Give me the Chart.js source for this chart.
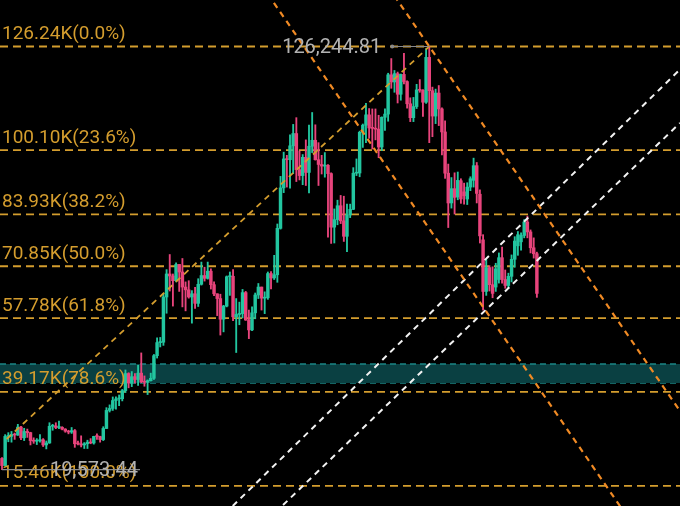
<!DOCTYPE html>
<html lang="en">
<head>
<meta charset="UTF-8">
<title>BTC Fibonacci</title>
<script src="https://cdn.jsdelivr.net/npm/chart.js@4.4.1/dist/chart.umd.min.js"></script>
<style>
    html, body { margin: 0; padding: 0; background: #000; }
    #wrap { width: 680px; height: 506px; }
</style>
</head>
<body>
<div id="wrap"><canvas id="chart" width="680" height="506"></canvas></div>
<script>
// weekly candles, price in thousands (K)
var opens = [
    22.4, 20.6, 27.95, 27.97, 28.45, 28.3, 30.3, 27.6, 29.2, 28.9,
    26.9, 26.75, 26.85, 27.1, 25.8, 26.3, 30.5, 30.6, 30.2, 30.25,
    29.8, 29.3, 29.05, 29.4, 26.1, 26.05, 25.8, 26.1, 26.5, 26.3,
    27.95, 27.9, 27.15, 29.95, 34.5, 35.0, 37.0, 37.4, 37.45, 39.5,
    43.8, 41.4, 43.0, 42.3, 43.9, 41.7, 41.6, 42.0, 42.6, 48.3,
    51.6, 51.7, 63.1, 68.9, 68.4, 67.2, 71.3, 69.4, 65.6, 64.9,
    63.1, 63.9, 61.5, 66.3, 68.5, 67.8, 69.6, 66.2, 63.9, 62.7,
    57.5, 60.8, 68.2, 68.3, 58.1, 58.7, 58.9, 64.2, 57.3, 54.8,
    59.1, 63.6, 65.6, 62.8, 62.9, 69.0, 67.9, 68.7, 80.4, 90.6,
    97.9, 97.7, 101.2, 104.3, 95.2, 93.7, 98.3, 94.5, 101.1, 102.6,
    97.7, 96.5, 96.1, 96.3, 94.2, 80.7, 82.6, 86.1, 82.3, 78.4,
    83.8, 85.2, 94.3, 94.35, 104.6, 106.4, 109.0, 105.7, 105.6, 105.4,
    100.9, 108.4, 109.2, 119.1, 117.3, 119.4, 114.2, 119.2, 117.4, 111.8,
    108.3, 111.1, 115.3, 115.2, 112.2, 123.5, 115.1, 108.7, 114.5, 110.5,
    104.7, 94.3, 86.8, 90.4, 88.3, 92.4, 89.6, 87.8, 90.8, 92.5,
    96.2, 89.0, 77.5, 64.5, 70.5, 66.2, 65.6, 67.5, 73.0, 67.5,
    66.0, 68.3, 72.6, 76.0, 77.0, 78.6, 82.0, 79.5, 75.5, 74.0
];
var highs = [
    22.6, 28.4, 28.9, 29.2, 28.8, 31.0, 30.5, 30.0, 29.8, 29.0,
    27.6, 27.4, 28.4, 27.4, 26.8, 31.4, 31.0, 31.4, 31.8, 30.4,
    29.9, 29.5, 30.2, 29.7, 26.8, 28.1, 26.4, 27.0, 27.4, 28.0,
    28.6, 28.0, 30.4, 35.2, 35.9, 37.9, 37.9, 38.4, 39.8, 44.7,
    44.0, 44.3, 43.8, 45.9, 49.0, 43.2, 42.2, 43.9, 48.6, 52.8,
    52.9, 64.0, 70.0, 73.8, 68.9, 71.7, 71.3, 72.8, 66.9, 67.2,
    64.7, 65.5, 67.7, 71.9, 70.6, 71.9, 70.2, 66.9, 63.9, 63.8,
    61.0, 68.4, 69.4, 70.0, 62.7, 61.8, 65.0, 64.5, 59.8, 60.6,
    64.1, 66.5, 65.6, 64.4, 69.4, 69.5, 73.6, 81.5, 93.5, 99.6,
    98.8, 104.0, 106.6, 108.3, 99.9, 99.0, 102.7, 106.4, 109.6, 106.5,
    102.0, 98.8, 99.5, 96.5, 94.4, 85.3, 87.5, 88.7, 88.5, 86.5,
    86.5, 95.7, 97.9, 104.9, 106.7, 111.9, 110.6, 110.5, 110.5, 108.9,
    108.5, 110.5, 119.5, 123.2, 120.2, 119.8, 119.3, 124.5, 117.6, 113.3,
    113.4, 116.7, 117.9, 115.4, 125.7, 126.24, 116.0, 115.5, 116.4, 110.8,
    107.5, 96.6, 93.2, 94.4, 94.6, 92.9, 91.8, 91.9, 93.4, 98.1,
    97.0, 90.1, 78.8, 72.6, 71.0, 70.7, 71.6, 74.2, 75.7, 69.9,
    69.1, 73.7, 78.3, 79.6, 79.3, 82.6, 83.5, 80.0, 78.0, 74.4
];
var lows = [
    19.57, 20.5, 26.6, 26.5, 27.2, 28.2, 27.1, 26.9, 27.7, 25.8,
    26.2, 25.9, 26.5, 25.4, 24.8, 26.2, 29.5, 29.9, 29.9, 29.6,
    29.0, 28.6, 28.7, 25.2, 25.8, 25.3, 24.9, 24.9, 26.1, 26.0,
    27.2, 26.5, 26.9, 29.9, 34.1, 34.5, 34.8, 35.7, 36.9, 39.0,
    40.2, 40.5, 41.4, 40.8, 41.5, 40.6, 38.5, 41.9, 42.3, 47.7,
    50.5, 50.9, 59.0, 64.6, 60.8, 66.9, 64.5, 60.6, 59.6, 62.8,
    56.5, 60.2, 60.7, 66.1, 67.1, 67.6, 65.1, 63.4, 58.4, 53.5,
    54.3, 60.6, 63.5, 57.1, 49.1, 56.1, 57.8, 57.2, 52.6, 54.6,
    57.6, 62.7, 59.8, 58.9, 62.5, 65.1, 67.5, 66.8, 80.2, 89.4,
    90.8, 90.5, 94.2, 92.2, 92.6, 91.4, 91.2, 89.3, 99.5, 97.6,
    91.2, 94.1, 93.3, 78.2, 76.6, 76.7, 81.3, 81.6, 77.1, 74.5,
    83.1, 85.1, 93.7, 93.4, 100.8, 102.0, 103.1, 100.4, 102.7, 98.2,
    100.0, 105.1, 107.4, 115.7, 114.7, 112.0, 112.7, 116.8, 110.7, 107.3,
    107.3, 110.6, 114.7, 108.6, 111.9, 102.0, 103.5, 106.8, 106.3, 98.9,
    93.0, 80.6, 85.5, 84.0, 87.6, 86.7, 86.5, 86.4, 89.9, 90.8,
    86.8, 76.7, 59.8, 63.5, 64.6, 62.9, 64.5, 66.6, 66.6, 65.3,
    65.2, 66.9, 70.6, 73.6, 74.9, 78.0, 78.0, 74.2, 72.9, 63.0
];
var closes = [
    20.6, 27.95, 27.97, 28.45, 28.3, 30.3, 27.6, 29.2, 28.9, 26.9,
    26.75, 26.85, 27.1, 25.8, 26.3, 30.5, 30.6, 30.2, 30.25, 29.8,
    29.3, 29.05, 29.4, 26.1, 26.05, 25.8, 26.1, 26.5, 26.3, 27.95,
    27.9, 27.15, 29.95, 34.5, 35.0, 37.0, 37.4, 37.45, 39.5, 43.8,
    41.4, 43.0, 42.3, 43.9, 41.7, 41.6, 42.0, 42.6, 48.3, 51.6,
    51.7, 63.1, 68.9, 68.4, 67.2, 71.3, 69.4, 65.6, 64.9, 63.1,
    63.9, 61.5, 66.3, 68.5, 67.8, 69.6, 66.2, 63.9, 62.7, 57.5,
    60.8, 68.2, 68.3, 58.1, 58.7, 58.9, 64.2, 57.3, 54.8, 59.1,
    63.6, 65.6, 62.8, 62.9, 69.0, 67.9, 68.7, 80.4, 90.6, 97.9,
    97.7, 101.2, 104.3, 95.2, 93.7, 98.3, 94.5, 101.1, 102.6, 97.7,
    96.5, 96.1, 96.3, 94.2, 80.7, 82.6, 86.1, 82.3, 78.4, 83.8,
    85.2, 94.3, 94.35, 104.6, 106.4, 109.0, 105.7, 105.6, 105.4, 100.9,
    108.4, 109.2, 119.1, 117.3, 119.4, 114.2, 119.2, 117.4, 111.8, 108.3,
    111.1, 115.3, 115.2, 112.2, 123.5, 115.1, 108.7, 114.5, 110.5, 104.7,
    94.3, 86.8, 90.4, 88.2, 92.5, 87.8, 88.6, 90.8, 92.9, 96.2,
    89.2, 78.5, 64.5, 70.5, 66.2, 64.0, 70.2, 73.0, 67.5, 66.0,
    68.3, 72.6, 77.2, 78.8, 78.6, 82.0, 79.5, 75.5, 74.0, 64.0
];

// fibonacci retracement levels (K) and their percentages
var fibLevels = [126.24, 100.10, 83.93, 70.85, 57.78, 39.17, 15.46];
var fibPercents = ['0.0%', '23.6%', '38.2%', '50.0%', '61.8%', '78.6%', '100.0%'];

// support zone (K)
var zoneBand = [41.4, 46.2];

// marked high / low
var peakIndex = 135, peakValue = 126.24481;
var lowIndex = 0, lowValue = 19.57344;

// trend lines as [index1, price1, index2, price2]
var goldLine = [1.5, 27.3, 135, 126.24];
var orangeLines = [[80, 144.1, 200, 4.9], [120, 143.64, 220, 27.64]];
var whiteLines = [[72.9, 10.41, 214.2, 120.44], [88.8, 10.66, 214.2, 106.95]];

var xMin = -0.632, xMax = 214.22;
var yMin = 10.41, yMax = 137.96;

var gold = '#d49d2e';
var green = '#22c6a0';
var red = '#e8447c';

var wicks = [], bodies = [], colors = [];
for (var i = 0; i < opens.length; i++) {
    wicks.push({ x: i, y: [lows[i], highs[i]] });
    bodies.push({ x: i, y: [Math.min(opens[i], closes[i]), Math.max(opens[i], closes[i])] });
    colors.push(closes[i] >= opens[i] ? green : red);
}

function segment(a, color, dash, width, order) {
    return {
        type: 'line',
        data: [{ x: a[0], y: a[1] }, { x: a[2], y: a[3] }],
        borderColor: color,
        borderDash: dash,
        borderWidth: width,
        pointRadius: 0,
        fill: false,
        order: order
    };
}

var datasets = [];

// zone band (top line fills down to bottom line)
datasets.push({
    type: 'line',
    data: [{ x: xMin, y: zoneBand[1] }, { x: xMax, y: zoneBand[1] }],
    borderColor: '#1b8585', borderDash: [6, 4], borderWidth: 1.5,
    backgroundColor: 'rgb(10, 64, 66)', fill: '+1', pointRadius: 0, order: 20
});
datasets.push({
    type: 'line',
    data: [{ x: xMin, y: zoneBand[0] }, { x: xMax, y: zoneBand[0] }],
    borderColor: '#1b8585', borderDash: [6, 4], borderWidth: 1.5,
    fill: false, pointRadius: 0, order: 20
});

fibLevels.forEach(function (v) {
    datasets.push(segment([xMin, v, xMax, v], gold, [8, 5], 1.8, 15));
});

datasets.push({
    type: 'bar', data: wicks, backgroundColor: colors,
    barThickness: 1.2, grouped: false, order: 6
});
datasets.push({
    type: 'bar', data: bodies, backgroundColor: colors,
    barThickness: 2.8, grouped: false, minBarLength: 1, order: 5
});

datasets.push(segment(goldLine, gold, [6, 5], 1.8, 2));
orangeLines.forEach(function (l) {
    datasets.push(segment(l, '#f08a24', [6, 5], 2.2, 2));
});
whiteLines.forEach(function (l) {
    datasets.push(segment(l, '#f2f2f2', [6, 5], 2, 2));
});

var labelPlugin = {
    id: 'fibLabels',
    afterDatasetsDraw: function (chart) {
        var ctx = chart.ctx, xs = chart.scales.x, ys = chart.scales.y;
        ctx.save();
        ctx.font = '19px Roboto';
        ctx.fillStyle = gold;
        ctx.textAlign = 'left';
        ctx.textBaseline = 'alphabetic';
        fibLevels.forEach(function (v, i) {
            ctx.fillText(v.toFixed(2) + 'K(' + fibPercents[i] + ')', 2, ys.getPixelForValue(v) - 7.5);
        });

        // high marker
        var px = xs.getPixelForValue(peakIndex), py = ys.getPixelForValue(peakValue);
        ctx.strokeStyle = '#8a8a8a';
        ctx.fillStyle = '#8a8a8a';
        ctx.lineWidth = 1.2;
        ctx.beginPath();
        ctx.moveTo(px - 37, py);
        ctx.lineTo(px, py);
        ctx.stroke();
        ctx.beginPath();
        ctx.arc(px - 37, py, 2, 0, Math.PI * 2);
        ctx.fill();

        // low marker
        var lx = xs.getPixelForValue(lowIndex), ly = ys.getPixelForValue(lowValue);
        ctx.beginPath();
        ctx.moveTo(lx, ly);
        ctx.lineTo(140, ly);
        ctx.stroke();

        ctx.font = '20px Roboto';
        ctx.fillStyle = '#b2b2b2';
        ctx.textAlign = 'right';
        var fmt = function (v) {
            return (v * 1000).toLocaleString('en-US', { minimumFractionDigits: 2, maximumFractionDigits: 2 });
        };
        ctx.fillText(fmt(peakValue), px - 48, py + 6.5);
        ctx.fillText(fmt(lowValue), 138, ly + 6.3);
        ctx.restore();
    }
};

new Chart(document.getElementById('chart').getContext('2d'), {
    type: 'bar',
    data: { datasets: datasets },
    options: {
        responsive: false,
        animation: false,
        layout: { padding: 0 },
        plugins: { legend: { display: false }, tooltip: { enabled: false } },
        scales: {
            x: { type: 'linear', display: false, min: xMin, max: xMax, offset: false },
            y: { type: 'linear', display: false, min: yMin, max: yMax }
        }
    },
    plugins: [labelPlugin]
});
</script>
</body>
</html>
